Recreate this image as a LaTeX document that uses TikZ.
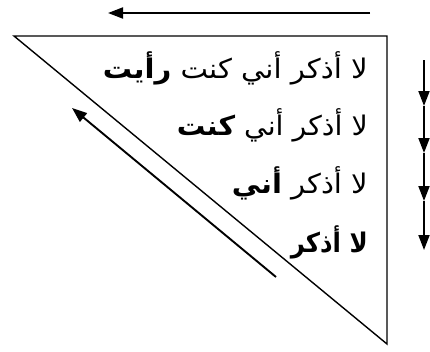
\documentclass[tikz,border=0pt]{standalone}
\usepackage{fontspec}
\usepackage{graphicx}
\usetikzlibrary{arrows.meta}
\newfontfamily\arabicfont[Script=Arabic]{DejaVu Sans}
\TeXXeTstate=1
\newsavebox\fitlinebox
\newcommand\fitline[2]{%
  \sbox\fitlinebox{\arabicfont\fontsize{27}{30}\selectfont #2}%
  \pgfmathsetmacro\fitfac{#1/\the\wd\fitlinebox}%
  \scalebox{\fitfac}[1]{\usebox\fitlinebox}}
\begin{document}
\begin{tikzpicture}[x=1pt,y=-1pt,
  txt/.style={anchor=base east,inner sep=0pt},
  arr/.style={line width=1.9pt,-{Triangle[length=15pt,width=11pt]}},
  tri/.style={line width=1.4pt}]
\useasboundingbox (0,0) rectangle (430,351);
\coordinate (A) at (14,36);
\coordinate (B) at (387,36);
\coordinate (C) at (387,344);
\draw[tri,line join=miter] (A) -- (B) -- (C) -- cycle;
\coordinate (t1) at (370,13);
\coordinate (t2) at (108,13);
\draw[arr] (t1) -- (t2);
\coordinate (d1) at (276,277);
\coordinate (d2) at (72,108);
\draw[arr] (d1) -- (d2);
\coordinate (v0) at (424,60);
\coordinate (v1) at (424,106);
\coordinate (v2) at (424,153);
\coordinate (v3) at (424,201);
\coordinate (v4) at (424,250);
\draw[arr] (v0) -- (v1);
\draw[arr] (v1) -- (v2);
\draw[arr] (v2) -- (v3);
\draw[arr] (v3) -- (v4);
\node[txt] (l1) at (368,78) {\fitline{265}{\beginR لا أذكر أني كنت {\bfseries رأيت}\endR}};
\node[txt] (l2) at (368,135) {\fitline{191}{\beginR لا أذكر أني {\bfseries كنت}\endR}};
\node[txt] (l3) at (368,193) {\fitline{136}{\beginR لا أذكر {\bfseries أني}\endR}};
\node[txt] (l4) at (368,252) {\fitline{77}{\beginR {\bfseries لا أذكر}\endR}};
\end{tikzpicture}
\end{document}
